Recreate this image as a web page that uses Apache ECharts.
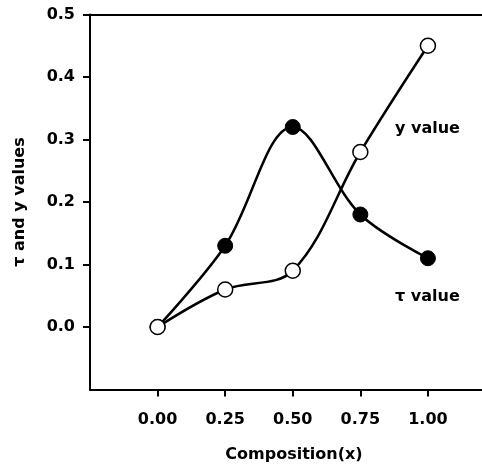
<!DOCTYPE html>
<html>
<head>
<meta charset="utf-8">
<script src="https://cdn.jsdelivr.net/npm/echarts@6/dist/echarts.min.js"></script>
<style>
html, body { margin: 0; padding: 0; background: #fff; }
#chart { width: 482px; height: 470px; }
</style>
</head>
<body>
<div id="chart"></div>
<script>
// composition values on the x axis
var composition = [0, 0.25, 0.5, 0.75, 1.0]
// filled circles
var tauValues = [0, 0.13, 0.32, 0.18, 0.11]
// open circles
var yValues = [0, 0.06, 0.09, 0.28, 0.45]

var xTicks = [0, 0.25, 0.5, 0.75, 1.0]
var yTicks = [0, 0.1, 0.2, 0.3, 0.4, 0.5]

var font = 'DejaVu Sans, Liberation Sans, sans-serif'

function pairs(xs, ys) {
  return xs.map(function (x, i) { return [x, ys[i]] })
}

var chart = echarts.init(document.getElementById('chart'))
var options = {
  animation: false,
  grid: {
    left: 90,
    right: 0,
    top: 14.5,
    bottom: 80.5
  },
  xAxis: [{
    type: 'value',
    min: -0.25,
    max: 1.2,
    interval: 0.25,
    name: 'Composition(x)',
    nameLocation: 'middle',
    nameGap: 57,
    nameTextStyle: {
      color: '#000',
      fontFamily: font,
      fontWeight: 'bold',
      fontSize: 16,
      padding: [0, 0, 0, 16]
    },
    axisLine: { onZero: false, lineStyle: { color: '#000', width: 2 } },
    axisTick: { show: true, length: 7, customValues: xTicks, lineStyle: { color: '#000', width: 2 } },
    splitLine: { show: false },
    axisLabel: {
      margin: 22,
      color: '#000',
      fontFamily: font,
      fontWeight: 'bold',
      fontSize: 16,
      customValues: xTicks,
      formatter: function (v) { return v.toFixed(2) }
    }
  }, {
    // top frame line only
    type: 'value',
    position: 'top',
    min: -0.25,
    max: 1.2,
    axisLine: { onZero: false, lineStyle: { color: '#000', width: 2 } },
    axisTick: { show: false },
    axisLabel: { show: false },
    splitLine: { show: false }
  }],
  yAxis: {
    type: 'value',
    min: -0.1,
    max: 0.5,
    interval: 0.1,
    name: 'τ and y values',
    nameLocation: 'middle',
    nameGap: 62,
    nameTextStyle: {
      color: '#000',
      fontFamily: font,
      fontWeight: 'bold',
      fontSize: 16
    },
    axisLine: { onZero: false, lineStyle: { color: '#000', width: 2 } },
    axisTick: { show: true, length: 7, customValues: yTicks, lineStyle: { color: '#000', width: 2 } },
    splitLine: { show: false },
    axisLabel: {
      margin: 15,
      color: '#000',
      fontFamily: font,
      fontWeight: 'bold',
      fontSize: 16,
      customValues: yTicks,
      formatter: function (v) { return v.toFixed(1) }
    }
  },
  series: [{
    name: 'τ value',
    type: 'line',
    smooth: 0.35,
    symbol: 'circle',
    symbolSize: 15,
    lineStyle: { color: '#000', width: 2.5 },
    itemStyle: { color: '#000', borderColor: '#000', borderWidth: 1 },
    data: pairs(composition, tauValues)
  }, {
    name: 'y value',
    type: 'line',
    smooth: 0.35,
    symbol: 'circle',
    symbolSize: 15,
    lineStyle: { color: '#000', width: 2.5 },
    itemStyle: { color: '#fff', borderColor: '#000', borderWidth: 1.5 },
    data: pairs(composition, yValues)
  }],
  graphic: [{
    type: 'text',
    left: 395,
    top: 121,
    style: { text: 'y value', fill: '#000', font: 'bold 16px ' + font }
  }, {
    type: 'text',
    left: 395,
    top: 289,
    style: { text: 'τ value', fill: '#000', font: 'bold 16px ' + font }
  }]
}
chart.setOption(options)
</script>
</body>
</html>
